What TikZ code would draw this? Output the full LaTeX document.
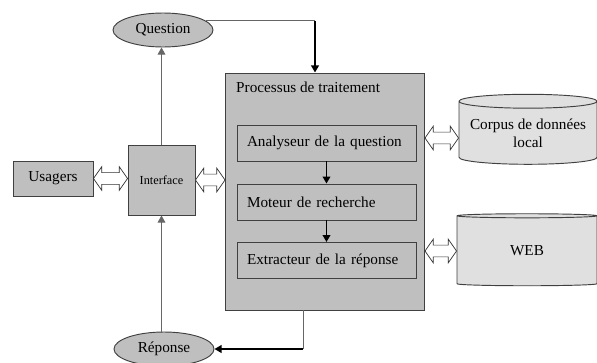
\documentclass[tikz,border=0pt]{standalone}
\usepackage{fontspec}
\setmainfont{Liberation Serif}
\usetikzlibrary{arrows.meta,shapes.geometric,calc}

% hollow two-headed arrow between two nodes
\newcommand{\dualarrow}[2]{%
  \draw[hollow] let \p1=(#1), \p2=(#2) in
    (\x1,\y1) -- (\x1+7pt,\y1+10pt) -- (\x1+7pt,\y1+5pt) -- (\x2-7pt,\y1+5pt)
    -- (\x2-7pt,\y1+10pt) -- (\x2,\y1) -- (\x2-7pt,\y1-10pt) -- (\x2-7pt,\y1-5pt)
    -- (\x1+7pt,\y1-5pt) -- (\x1+7pt,\y1-10pt) -- cycle;}

\tikzset{
  box/.style={draw=black!75, line width=0.8pt, fill=black!25, inner sep=0pt},
  ovalbox/.style={ellipse, draw=black!75, line width=0.8pt, fill=black!25, inner sep=0pt,
    minimum width=3cm, minimum height=1.02cm},
  stage/.style={draw=black!75, line width=0.8pt, fill=black!25, inner xsep=0.3cm,
    text width=4.77cm, align=left, minimum height=1.08cm},
  store/.style={cylinder, shape border rotate=90, draw=black!75, line width=0.8pt,
    fill=black!12, aspect=0.12, align=center, inner sep=0pt},
  hollow/.style={draw=black!80, line width=0.6pt, fill=white, line join=miter},
  thinline/.style={draw=black!60, line width=0.8pt},
  boldline/.style={draw=black, line width=1.6pt},
}

\begin{document}
\begin{tikzpicture}[x=0.03cm, y=-0.03cm, >={Triangle[length=6pt,width=6.5pt]},
  font=\fontsize{13}{15}\selectfont]
\useasboundingbox (0,0) rectangle (597,362);

% left side
\node[ovalbox] (question) at (163,30) {Question};
\node[box, minimum width=2.4cm, minimum height=1.05cm] (usagers) at (53,178.5) {Usagers};
\node[box, minimum width=2.01cm, minimum height=2.1cm, font=\fontsize{10.5}{12}\selectfont]
  (interface) at (161.5,180) {Interface};
\node[ovalbox] (reponse) at (164,349) {Réponse};

% processing block
\node[box, minimum width=5.97cm, minimum height=7.11cm] (proc) at (325,191.5) {};
\node[anchor=west, inner sep=0pt] (proctitle) at (236,87) {Processus de traitement};
\node[stage] (analyseur) at (326.5,143) {Analyseur de la question};
\node[stage] (moteur) at (326.5,202) {Moteur de recherche};
\node[stage] (extracteur) at (326.5,260.5) {Extracteur de la réponse};

% data sources
\node[store, minimum width=4.14cm, minimum height=2.1cm] (corpus) at (528,133)
  {Corpus de données\\local};
\node[store, minimum width=4.2cm, minimum height=2.16cm] (web) at (527,251) {WEB};

% flow inside the block
\draw[boldline,->] (analyseur) -- (moteur);
\draw[boldline,->] (moteur) -- (extracteur);

% question and answer
\coordinate (qturn) at (question.12 -| 315,0);
\coordinate (rturn) at (303,349);
\draw[thinline,->] (interface.north) -- (interface.north |- question.south);
\draw[thinline] (question.12) -- (qturn);
\draw[boldline,->] (qturn) -- (qturn |- proc.north);
\draw[thinline] (rturn |- proc.south) -- (rturn);
\draw[boldline,->] (rturn) -- (reponse.east);
\draw[thinline,->] (interface.south |- reponse.north) -- (interface.south);

% exchanges
\dualarrow{usagers.east}{interface.west}
\dualarrow{interface.east}{proc.west |- interface.east}
\dualarrow{proc.east |- 0,138}{corpus.west |- 0,138}
\dualarrow{proc.east |- web.west}{web.west}

\end{tikzpicture}
\end{document}
